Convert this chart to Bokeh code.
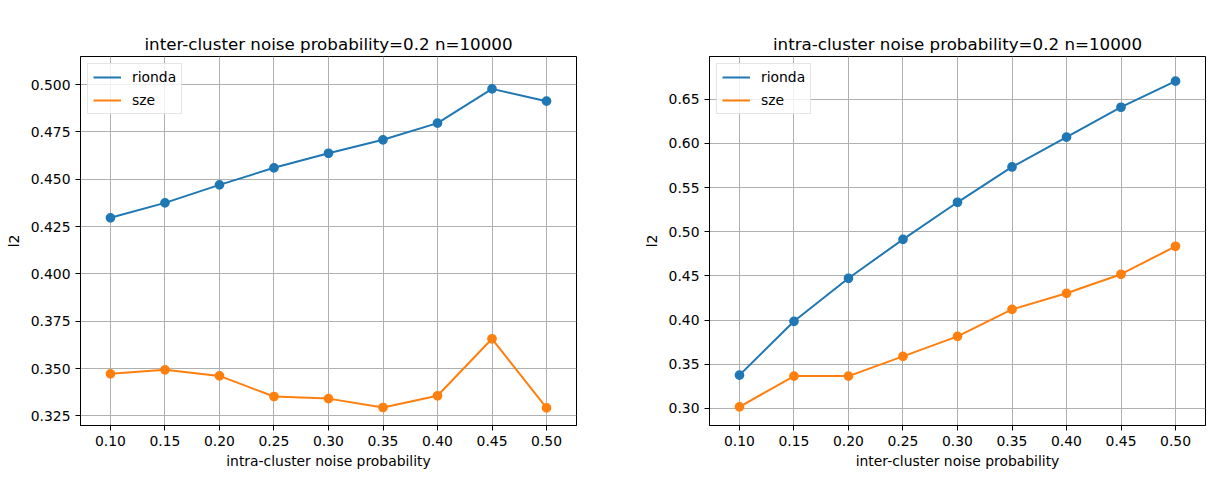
from bokeh.plotting import figure
from bokeh.layouts import row
from bokeh.models import Range1d, FixedTicker, Legend, LegendItem
from bokeh.embed import file_html
from bokeh.resources import INLINE

# noise probabilities swept on the x axis
noise = [0.10, 0.15, 0.20, 0.25, 0.30, 0.35, 0.40, 0.45, 0.50]

# l2 error, varying intra-cluster noise (inter fixed at 0.2)
intra_rionda = [0.4296, 0.4375, 0.4470, 0.4560, 0.4637, 0.4708, 0.4796, 0.4977, 0.4912]
intra_sze = [0.3472, 0.3493, 0.3461, 0.3352, 0.3341, 0.3294, 0.3356, 0.3657, 0.3292]

# l2 error, varying inter-cluster noise (intra fixed at 0.2)
inter_rionda = [0.3377, 0.3986, 0.4473, 0.4914, 0.5333, 0.5733, 0.6070, 0.6409, 0.6704]
inter_sze = [0.3018, 0.3366, 0.3366, 0.3589, 0.3815, 0.4121, 0.4303, 0.4519, 0.4835]

x_ticks = [0.10, 0.15, 0.20, 0.25, 0.30, 0.35, 0.40, 0.45, 0.50]
left_y_ticks = [0.325, 0.350, 0.375, 0.400, 0.425, 0.450, 0.475, 0.500]
right_y_ticks = [0.30, 0.35, 0.40, 0.45, 0.50, 0.55, 0.60, 0.65]

BLUE = "#1f77b4"
ORANGE = "#ff7f0e"
FONT = "DejaVu Sans"


def make_panel(title, xlabel, rionda, sze, y_range, y_ticks, y_fmt,
               border_left, border_right):
    p = figure(
        frame_width=496, frame_height=369,
        min_border_left=border_left, min_border_right=border_right,
        min_border_top=56, min_border_bottom=55,
        x_range=Range1d(0.0725, 0.5275), y_range=Range1d(*y_range),
        output_backend="svg", toolbar_location=None,
        background_fill_color="white", border_fill_color="white",
    )
    p.title.text = title
    p.title.align = "center"
    p.title.text_font = FONT
    p.title.text_font_size = "16.7px"
    p.title.text_font_style = "normal"
    p.title.text_color = "black"
    p.title.standoff = 6

    p.outline_line_color = "black"
    p.outline_line_width = 1
    p.outline_line_alpha = 1

    for ax in (p.xaxis[0], p.yaxis[0]):
        ax.axis_line_color = "black"
        ax.major_tick_line_color = "black"
        ax.major_tick_out = 5
        ax.major_tick_in = 0
        ax.minor_tick_line_color = None
        ax.major_label_text_font = FONT
        ax.major_label_text_font_size = "13.9px"
        ax.major_label_text_color = "black"
        ax.major_label_standoff = 5
        ax.axis_label_text_font = FONT
        ax.axis_label_text_font_size = "13.9px"
        ax.axis_label_text_font_style = "normal"
        ax.axis_label_text_color = "black"
    p.xaxis.axis_label_standoff = 4
    p.yaxis.axis_label_standoff = 6

    p.xaxis.ticker = FixedTicker(ticks=x_ticks)
    p.xaxis.major_label_overrides = {t: f"{t:.2f}" for t in x_ticks}
    p.yaxis.ticker = FixedTicker(ticks=y_ticks)
    p.yaxis.major_label_overrides = {t: y_fmt.format(t) for t in y_ticks}
    p.xaxis.axis_label = xlabel
    p.yaxis.axis_label = "l2"

    p.xgrid.ticker = FixedTicker(ticks=x_ticks)
    p.ygrid.ticker = FixedTicker(ticks=y_ticks)
    p.grid.grid_line_color = "#b0b0b0"
    p.grid.grid_line_width = 1

    l1 = p.line(noise, rionda, line_color=BLUE, line_width=2)
    p.scatter(noise, rionda, size=8.3, fill_color=BLUE, line_color=BLUE,
              line_width=1.4)
    l2 = p.line(noise, sze, line_color=ORANGE, line_width=2)
    p.scatter(noise, sze, size=8.3, fill_color=ORANGE, line_color=ORANGE,
              line_width=1.4)

    legend = Legend(
        items=[LegendItem(label="rionda", renderers=[l1]),
               LegendItem(label="sze", renderers=[l2])],
        location="top_left",
        margin=7, padding=5, spacing=7,
        glyph_width=28, glyph_height=14, label_height=14, label_width=20,
        label_standoff=11,
        label_text_font=FONT, label_text_font_size="13.9px",
        label_text_color="black",
        border_line_color="#cccccc", border_line_width=1,
        background_fill_color="white", background_fill_alpha=0.8,
    )
    p.add_layout(legend, "center")
    return p


left = make_panel("inter-cluster noise probability=0.2 n=10000",
                  "intra-cluster noise probability",
                  intra_rionda, intra_sze, (0.3199, 0.5148),
                  left_y_ticks, "{:.3f}", 80, 64)
right = make_panel("intra-cluster noise probability=0.2 n=10000",
                   "inter-cluster noise probability",
                   inter_rionda, inter_sze, (0.2807, 0.6983),
                   right_y_ticks, "{:.2f}", 69, 16)

layout = row(left, right)
open("out.html", "w").write(file_html(layout, INLINE))
